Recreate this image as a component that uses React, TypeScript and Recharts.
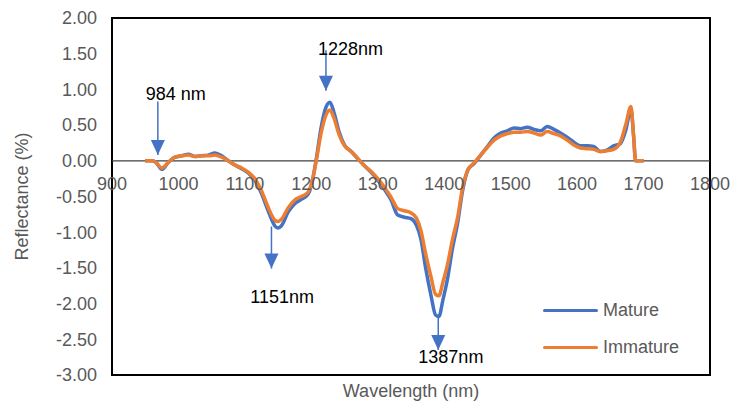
import React from 'react'
import {
  LineChart,
  Line,
  XAxis,
  YAxis,
  ReferenceLine,
  ReferenceDot,
  ReferenceArea,
  Legend,
} from 'recharts'

// Spectra (nm, reflectance %)
const wavelengths = [
  950, 960, 966, 975, 985, 995, 1005, 1015, 1025, 1035, 1045, 1055, 1065, 1075, 1085, 1095,
  1105, 1115, 1125, 1135, 1145, 1150, 1155, 1165, 1175, 1185, 1195, 1200, 1207, 1215, 1222,
  1228, 1234, 1242, 1250, 1260, 1270, 1280, 1290, 1300, 1310, 1320, 1330, 1340, 1350, 1358,
  1365, 1372, 1380, 1387, 1392, 1398, 1405, 1412, 1420, 1428, 1436, 1445, 1455, 1465, 1475,
  1485, 1495, 1505, 1515, 1525, 1535, 1545, 1555, 1565, 1575, 1585, 1595, 1605, 1615, 1625,
  1635, 1645, 1655, 1665, 1673, 1681, 1685, 1688, 1700,
]

const mature = [
  0.0, 0.0, -0.02, -0.12, -0.02, 0.05, 0.07, 0.09, 0.06, 0.07, 0.08, 0.11, 0.07, 0.0, -0.06, -0.11,
  -0.17, -0.27, -0.46, -0.7, -0.91, -0.94, -0.91, -0.72, -0.6, -0.54, -0.47, -0.35, 0.0, 0.48, 0.75,
  0.82, 0.68, 0.4, 0.22, 0.13, 0.03, -0.07, -0.16, -0.27, -0.4, -0.55, -0.76, -0.79, -0.81, -0.9,
  -1.1, -1.5, -1.88, -2.16, -2.18, -1.95, -1.65, -1.25, -0.88, -0.4, -0.12, -0.04, 0.08, 0.2, 0.32,
  0.39, 0.42, 0.46, 0.45, 0.47, 0.44, 0.42, 0.48, 0.44, 0.39, 0.33, 0.26, 0.21, 0.21, 0.2,
  0.13, 0.15, 0.21, 0.24, 0.42, 0.72, 0.35, 0.0, 0.0,
]

const immature = [
  0.0, 0.0, -0.02, -0.1, -0.02, 0.05, 0.07, 0.08, 0.06, 0.07, 0.07, 0.08, 0.05, 0.0, -0.06, -0.1,
  -0.16, -0.25, -0.42, -0.65, -0.83, -0.85, -0.82, -0.66, -0.55, -0.5, -0.44, -0.33, -0.02, 0.4, 0.64,
  0.71, 0.6, 0.36, 0.21, 0.13, 0.03, -0.07, -0.15, -0.25, -0.37, -0.51, -0.67, -0.7, -0.73, -0.8,
  -0.98, -1.3, -1.62, -1.87, -1.89, -1.7, -1.45, -1.12, -0.8, -0.36, -0.12, -0.03, 0.08, 0.19, 0.29,
  0.35, 0.38, 0.4, 0.4, 0.41, 0.39, 0.36, 0.41, 0.38, 0.35, 0.29, 0.22, 0.18, 0.17, 0.16,
  0.13, 0.14, 0.16, 0.26, 0.5, 0.76, 0.35, 0.0, 0.0,
]

const xTicks = [900, 1000, 1100, 1200, 1300, 1400, 1500, 1600, 1700, 1800]
const yTicks = [-3, -2.5, -2, -1.5, -1, -0.5, 0, 0.5, 1, 1.5, 2]

const series = [
  { key: 'mature', name: 'Mature', color: '#4472C4' },
  { key: 'immature', name: 'Immature', color: '#ED7D31' },
]

// peak labels: stem x, stem top, arrow tip, label position
const annotations = [
  { text: '984 nm', x: 969, top: 0.83, tip: 0.08, lx: 996, ly: 0.94 },
  { text: '1228nm', x: 1222, top: 1.55, tip: 0.98, lx: 1259, ly: 1.57 },
  { text: '1151nm', x: 1140, top: -0.92, tip: -1.51, lx: 1156, ly: -1.9 },
  { text: '1387nm', x: 1391, top: -2.16, tip: -2.65, lx: 1410, ly: -2.74 },
]

const data = wavelengths.map((w, i) => ({ w, mature: mature[i], immature: immature[i] }))

const GREY = '#595959'
const ARROW = '#4472C4'

function renderLegend() {
  return (
    <div>
      {series.map((s) => (
        <div key={s.key} style={{ display: 'flex', alignItems: 'center', height: 37 }}>
          <div style={{ width: 55, height: 3.5, borderRadius: 2, background: s.color, marginRight: 5 }} />
          <span style={{ color: GREY, fontSize: 18 }}>{s.name}</span>
        </div>
      ))}
    </div>
  )
}

export default function App() {
  return (
    <div
      style={{
        position: 'absolute',
        left: 0,
        top: 0,
        width: 743,
        height: 401,
        background: '#fff',
        fontFamily: '"Liberation Sans", Arial, sans-serif',
      }}
    >
      <LineChart width={743} height={401} data={data} margin={{ top: 18, right: 33, bottom: 0, left: 0 }}>
        <XAxis
          dataKey="w"
          type="number"
          domain={[900, 1800]}
          ticks={xTicks}
          tick={false}
          axisLine={false}
          tickLine={false}
          height={26}
          label={{ value: 'Wavelength (nm)', position: 'insideBottom', offset: 4, fill: GREY, fontSize: 18 }}
        />
        <YAxis
          type="number"
          domain={[-3, 2]}
          ticks={yTicks}
          width={112}
          axisLine={false}
          tickLine={false}
          tickSize={0}
          tickMargin={15}
          tick={{ fill: GREY, fontSize: 18 }}
          tickFormatter={(v: number) => v.toFixed(2)}
          label={{
            value: 'Reflectance (%)',
            angle: -90,
            position: 'insideLeft',
            offset: 22,
            fill: GREY,
            fontSize: 18,
            style: { textAnchor: 'middle' },
          }}
        />
        <ReferenceArea x1={900} x2={1800} y1={-3} y2={2} fill="none" stroke="#000" strokeWidth={2} />
        <ReferenceLine y={0} stroke="#404040" strokeWidth={1.25} />
        {xTicks.map((t) => (
          <ReferenceDot
            key={'xt' + t}
            x={t}
            y={0}
            r={0}
            shape={(p: any) => (
              <text x={p.cx} y={p.cy + 29} textAnchor="middle" fill={GREY} fontSize={18}>
                {t}
              </text>
            )}
          />
        ))}
        {series.map((s) => (
          <Line
            key={s.key}
            dataKey={s.key}
            name={s.name}
            type="monotone"
            stroke={s.color}
            strokeWidth={3.5}
            dot={false}
            activeDot={false}
            isAnimationActive={false}
          />
        ))}
        {annotations.map((a) => (
          <ReferenceLine
            key={'st' + a.text}
            segment={[
              { x: a.x, y: a.top },
              { x: a.x, y: a.tip },
            ]}
            stroke={ARROW}
            strokeWidth={1.5}
          />
        ))}
        {annotations.map((a) => (
          <ReferenceDot
            key={'ar' + a.text}
            x={a.x}
            y={a.tip}
            r={0}
            shape={(p: any) => (
              <path d={`M${p.cx - 7},${p.cy - 15} L${p.cx + 7},${p.cy - 15} L${p.cx},${p.cy} Z`} fill={ARROW} />
            )}
          />
        ))}
        {annotations.map((a) => (
          <ReferenceDot
            key={'lb' + a.text}
            x={a.lx}
            y={a.ly}
            r={0}
            shape={(p: any) => (
              <text x={p.cx} y={p.cy} dy="0.36em" textAnchor="middle" fill="#000" fontSize={18}>
                {a.text}
              </text>
            )}
          />
        ))}
        <Legend
          layout="vertical"
          align="center"
          verticalAlign="middle"
          content={renderLegend}
          wrapperStyle={{ left: 543, top: 292, width: 160, height: 74 }}
        />
      </LineChart>
    </div>
  )
}
